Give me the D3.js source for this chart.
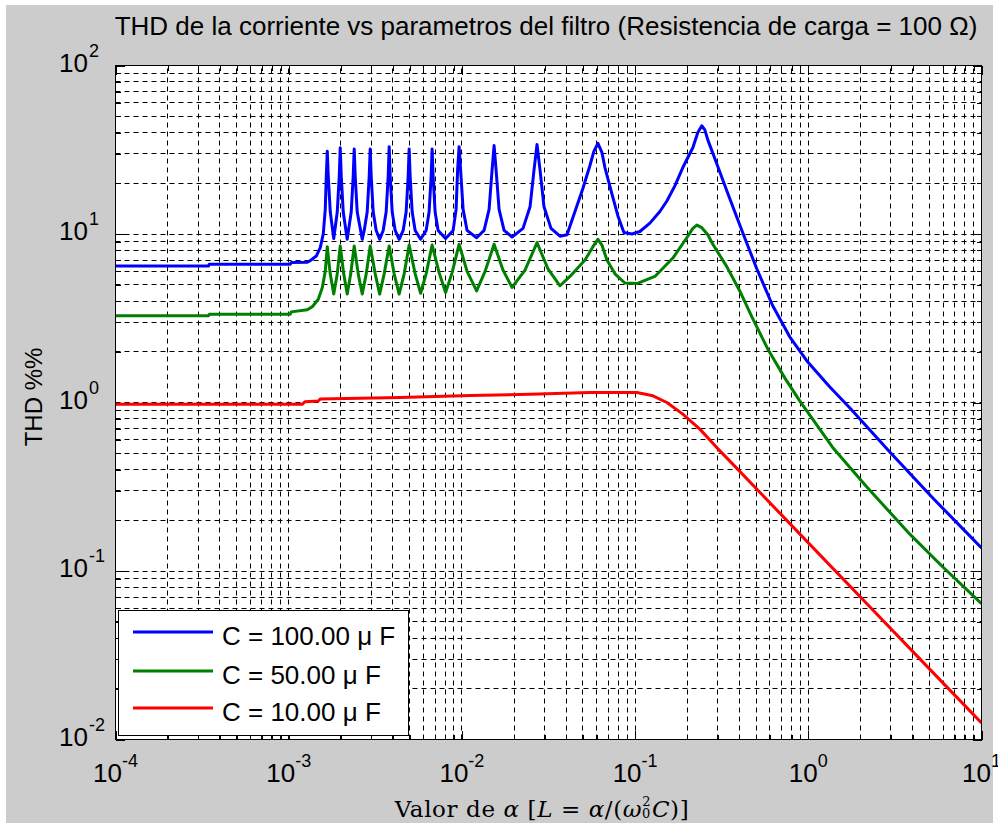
<!DOCTYPE html>
<html><head><meta charset="utf-8">
<script src="https://cdn.jsdelivr.net/npm/d3@7/dist/d3.min.js"></script>
<style>body{margin:0;background:#fff}svg{display:block}</style>
</head><body>
<svg id="chart" width="998" height="825"></svg>
<script>
// ---------- data ----------
const xTickExps = [-4, -3, -2, -1, 0, 1];
const yTickExps = [-2, -1, 0, 1, 2];
const titleText = "THD de la corriente vs parametros del filtro (Resistencia de carga = 100 Ω)";
const yLabelText = "THD %%";
const legendLabels = ["C = 100.00 μ F", "C = 50.00 μ F", "C = 10.00 μ F"];
const seriesColors = ["#0000ff", "#008000", "#ff0000"];

const alphaBlue = [1e-4,3.44e-4,3.48e-4,1.021e-3,1.035e-3,1.280e-3,1.332e-3,1.443e-3,1.521e-3,1.583e-3,1.626e-3,1.648e-3,1.670e-3,1.692e-3,1.738e-3,1.820e-3,
 1.907e-3,1.958e-3,1.984e-3,2.011e-3,2.065e-3,2.177e-3,
 2.296e-3,2.357e-3,2.389e-3,2.421e-3,2.486e-3,2.658e-3,
 2.729e-3,2.839e-3,2.916e-3,2.955e-3,2.995e-3,3.076e-3,3.200e-3,3.352e-3,
 3.512e-3,3.653e-3,3.753e-3,3.803e-3,3.854e-3,3.959e-3,4.119e-3,4.342e-3,
 4.580e-3,4.765e-3,4.895e-3,4.960e-3,5.026e-3,5.163e-3,5.372e-3,5.778e-3,
 6.215e-3,6.466e-3,6.642e-3,6.731e-3,6.821e-3,7.004e-3,7.290e-3,8.052e-3,
 8.898e-3,9.257e-3,9.447e-3,9.636e-3,9.829e-3,1.0161e-2,1.0715e-2,1.2158e-2,
 1.343e-2,1.4355e-2,1.4938e-2,1.534e-2,1.5753e-2,1.6392e-2,1.752e-2,1.948e-2,
 2.254e-2,2.474e-2,2.609e-2,2.715e-2,2.825e-2,2.979e-2,3.270e-2,3.684e-2,
 4.044e-2,4.496e-2,5.000e-2,5.486e-2,5.786e-2,6.101e-2,6.432e-2,6.697e-2,7.347e-2,7.958e-2,8.617e-2,9.583e-2,
 0.1066,0.1217,0.1390,0.1526,0.1696,0.1886,0.2154,0.2302,0.2427,0.2527,0.2629,0.2962,0.3384,0.3762,0.4184,0.5040,0.6231,0.7812,0.9790,1.328,1.733,2.947,5.217,10];
const thdBlue = [6.45,6.45,6.62,6.62,6.77,6.8,6.95,7.4,8.3,10,14,22,31,22,13.5,9.4,
 13.5,22,32.5,22,13.5,9.3,
 13.5,22,32,22,13.5,9.3,
 10.5,13.5,22,32,22,13.5,10.5,9.3,
 10.5,13.5,22,33,22,13.5,10.5,9.3,
 10.5,13.5,22,32,22,13.5,10.5,9.3,
 10.5,13.5,22,32,22,13.5,10.5,9.4,
 10.5,14,24,33,24,14,10.5,9.5,
 10.5,14,24,33.5,24,14,10.5,9.6,
 10.8,14.5,24,34,24,14.5,10.8,9.7,
 9.9,13.6,18.7,25.5,31,34.5,30.5,24.8,17.3,12.8,10.2,10.0,
 10.35,11.6,13.6,15.7,19.3,24.8,32.5,40,43.9,41.5,36.2,26.1,18.05,13.55,10.16,6.22,3.75,2.455,1.77,1.24,0.930,0.510,0.272,0.137];

const alphaGreen = [1e-4,3.44e-4,3.48e-4,1.021e-3,1.035e-3,1.280e-3,1.368e-3,1.482e-3,1.562e-3,1.626e-3,1.670e-3,1.737e-3,1.820e-3,
 1.907e-3,1.984e-3,2.078e-3,2.177e-3,
 2.281e-3,2.389e-3,2.520e-3,2.658e-3,
 2.803e-3,2.955e-3,3.159e-3,3.352e-3,
 3.558e-3,3.803e-3,4.064e-3,4.342e-3,
 4.642e-3,4.960e-3,5.373e-3,5.778e-3,
 6.215e-3,6.731e-3,7.386e-3,8.052e-3,
 8.781e-3,9.636e-3,1.0715e-2,1.2158e-2,
 1.361e-2,1.534e-2,1.728e-2,1.948e-2,
 2.314e-2,2.715e-2,3.141e-2,3.684e-2,
 4.207e-2,5.135e-2,5.786e-2,6.101e-2,6.432e-2,6.878e-2,7.648e-2,8.733e-2,0.1024,
 0.1301,0.1652,0.2016,0.2154,0.2272,0.2427,0.2629,0.2810,0.3384,0.4021,0.4716,0.5832,0.7311,0.8922,1.3825,2.172,3.845,5.960,10];
const thdGreen = [3.27,3.27,3.34,3.34,3.45,3.55,3.7,4.1,4.8,6.0,8.4,5.8,4.4,
 5.8,8.5,5.8,4.4,
 5.8,8.5,5.8,4.4,
 5.8,8.5,5.8,4.4,
 5.8,8.5,5.8,4.4,
 5.8,8.6,5.8,4.45,
 5.8,8.6,5.9,4.5,
 5.9,8.7,6.0,4.6,
 6.0,8.7,6.1,4.82,
 6.1,8.9,6.2,4.93,
 5.6,7.0,8.6,9.3,8.6,7.0,5.8,5.12,5.08,
 5.6,7.2,9.7,10.8,11.3,10.9,9.9,8.7,6.4,4.59,3.23,2.08,1.40,1.023,0.541,0.316,0.166,0.106,0.064];

const alphaRed = [1e-4,1.20e-3,1.24e-3,1.48e-3,1.52e-3,4.40e-3,1.115e-2,2.473e-2,5.486e-2,0.1024,0.1267,0.1526,0.1886,0.2364,0.2962,0.3664,0.8922,2.172,5.217,10];
const thdRed = [0.978,0.978,1.01,1.02,1.05,1.07,1.10,1.12,1.145,1.146,1.096,1.0,0.853,0.695,0.540,0.431,0.166,0.0641,0.0251,0.01253];

// ---------- layout ----------
const svg = d3.select("#chart");
const L = 115.5, R = 981.5, T = 65.5, B = 739.5;
const x = d3.scaleLog().domain([1e-4, 10]).range([L, R]);
const y = d3.scaleLog().domain([1e-2, 100]).range([B, T]);
const FONT = "'Liberation Sans', Arial, Helvetica, sans-serif";

svg.append("rect").attr("x", 6).attr("y", 5).attr("width", 987).attr("height", 818).attr("fill", "#cccccc");
svg.append("rect").attr("x", L).attr("y", T).attr("width", R - L).attr("height", B - T).attr("fill", "#ffffff");

// grid values
const xGrid = [], yGrid = [];
for (let e = -4; e <= 0; e++) for (let k = 1; k <= 9; k++) xGrid.push(k * Math.pow(10, e));
for (let e = -2; e <= 1; e++) for (let k = 1; k <= 9; k++) yGrid.push(k * Math.pow(10, e));
const crisp = v => Math.round(v - 0.5) + 0.5;

const grid = svg.append("g").attr("stroke", "#000").attr("stroke-width", 1).attr("stroke-dasharray", "5,4").attr("fill", "none");
xGrid.filter(v => v > 1e-4).forEach(v => {
  grid.append("line").attr("x1", crisp(x(v))).attr("x2", crisp(x(v))).attr("y1", B).attr("y2", T);
});
yGrid.filter(v => v > 1e-2).forEach(v => {
  grid.append("line").attr("y1", crisp(y(v))).attr("y2", crisp(y(v))).attr("x1", L).attr("x2", R);
});

// ticks via d3 axes (inside)
const isMajor = v => Math.abs(Math.log10(v) - Math.round(Math.log10(v))) < 1e-9;
const xMinor = xGrid.filter(v => !isMajor(v)), yMinor = yGrid.filter(v => !isMajor(v));
const xMajor = xTickExps.map(e => Math.pow(10, e)), yMajor = yTickExps.map(e => Math.pow(10, e));
function axisG(axis, tx, ty) {
  const g = svg.append("g").attr("transform", `translate(${tx},${ty})`).call(axis);
  g.select(".domain").remove();
  g.selectAll("text").remove();
  g.selectAll("line").attr("stroke", "#000").attr("shape-rendering", "crispEdges");
  return g;
}
axisG(d3.axisBottom(x).tickValues(xMinor).tickSize(-5).tickSizeOuter(0), 0, B);
axisG(d3.axisBottom(x).tickValues(xMajor).tickSize(-9).tickSizeOuter(0), 0, B);
axisG(d3.axisTop(x).tickValues(xMinor).tickSize(-5).tickSizeOuter(0), 0, T);
axisG(d3.axisTop(x).tickValues(xMajor).tickSize(-9).tickSizeOuter(0), 0, T);
axisG(d3.axisLeft(y).tickValues(yMinor).tickSize(-5).tickSizeOuter(0), L, 0);
axisG(d3.axisLeft(y).tickValues(yMajor).tickSize(-9).tickSizeOuter(0), L, 0);
axisG(d3.axisRight(y).tickValues(yMinor).tickSize(-5).tickSizeOuter(0), R, 0);
axisG(d3.axisRight(y).tickValues(yMajor).tickSize(-9).tickSizeOuter(0), R, 0);

// curves
const series = [
  {a: alphaBlue, v: thdBlue},
  {a: alphaGreen, v: thdGreen},
  {a: alphaRed, v: thdRed}
];
const line = d3.line().x(d => x(d[0])).y(d => y(d[1]));
svg.append("clipPath").attr("id", "pc").append("rect").attr("x", L).attr("y", T).attr("width", R - L).attr("height", B - T);
series.forEach((s, i) => {
  svg.append("path").attr("clip-path", "url(#pc)")
    .datum(s.a.map((a, j) => [a, s.v[j]]))
    .attr("d", line).attr("fill", "none").attr("stroke", seriesColors[i])
    .attr("stroke-width", 3).attr("stroke-linejoin", "round");
});

// frame
svg.append("rect").attr("x", L).attr("y", T).attr("width", R - L).attr("height", B - T)
  .attr("fill", "none").attr("stroke", "#000").attr("stroke-width", 1);

// tick labels
const xl = svg.append("g").attr("font-family", FONT).attr("fill", "#000");
xTickExps.forEach(e => {
  const t = xl.append("text").attr("x", x(Math.pow(10, e))).attr("y", 782).attr("text-anchor", "middle").attr("font-size", 26);
  t.append("tspan").text("10");
  t.append("tspan").attr("font-size", 18).attr("dy", -15).text(String(e));
});
yTickExps.forEach(e => {
  const yy = y(Math.pow(10, e));
  xl.append("text").attr("x", 88).attr("y", yy + 6).attr("text-anchor", "end").attr("font-size", 26).text("10");
  xl.append("text").attr("x", 89).attr("y", yy - 9).attr("text-anchor", "start").attr("font-size", 18).text(String(e));
});

// title
svg.append("text").attr("x", 546).attr("y", 35).attr("text-anchor", "middle")
  .attr("font-family", FONT).attr("font-size", 26).text(titleText);

// y label
svg.append("text").attr("transform", "translate(42,397) rotate(-90)").attr("text-anchor", "middle")
  .attr("font-family", FONT).attr("font-size", 24).text(yLabelText);

// x label (TeX-like)
const SERIF = "'DejaVu Serif', 'Liberation Serif', serif";
const xt = svg.append("text").attr("x", 542).attr("y", 817).attr("text-anchor", "middle")
  .attr("font-family", SERIF).attr("font-size", 23).attr("letter-spacing", 0.6);
xt.append("tspan").text("Valor de ");
xt.append("tspan").attr("font-style", "italic").text("α");
xt.append("tspan").text(" [");
xt.append("tspan").attr("font-style", "italic").text("L");
xt.append("tspan").text(" = ");
xt.append("tspan").attr("font-style", "italic").text("α");
xt.append("tspan").text("/(");
xt.append("tspan").attr("font-style", "italic").text("ω");
xt.append("tspan").attr("font-size", 13).attr("dy", -11).text("2");
xt.append("tspan").attr("font-size", 13).attr("dx", -9).attr("dy", 12).text("0");
xt.append("tspan").attr("font-style", "italic").attr("dx", 1).attr("dy", -1).text("C");
xt.append("tspan").text(")]");

// legend
const lg = svg.append("g");
lg.append("rect").attr("x", 118.5).attr("y", 610.5).attr("width", 290).attr("height", 125)
  .attr("fill", "#fff").attr("stroke", "#000").attr("stroke-width", 1);
const rowsY = [632, 671, 708];
legendLabels.forEach((lab, i) => {
  lg.append("line").attr("x1", 133).attr("x2", 213).attr("y1", rowsY[i]).attr("y2", rowsY[i])
    .attr("stroke", seriesColors[i]).attr("stroke-width", 3);
  lg.append("text").attr("x", 222).attr("y", rowsY[i] + 13).attr("font-family", FONT)
    .attr("font-size", 26).text(lab);
});
</script>
</body></html>
